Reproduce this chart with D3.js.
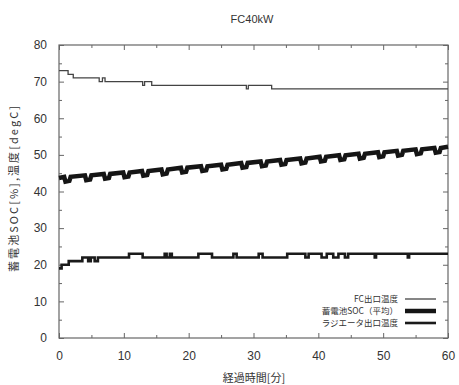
<!DOCTYPE html>
<html>
<head>
<meta charset="utf-8">
<script src="https://cdn.jsdelivr.net/npm/d3@7"></script>
<style>
  html, body { margin: 0; padding: 0; background: #fff; }
  svg { display: block; }
  text { font-family: "Liberation Sans", "Noto Sans CJK JP", sans-serif; fill: #333; }
  .jp { font-family: "Noto Sans CJK JP", sans-serif; }
</style>
</head>
<body>
<svg id="chart" width="459" height="385"></svg>
<script>
// Elapsed time [min] and FC outlet temperature [degC] (step data)
const fcTime = [0, 1.4, 2.2, 6.2, 6.7, 7.1, 12.9, 13.2, 14.3, 28.9, 29.2, 32.8, 60];
const fcTemp = [73, 72, 71, 70, 71, 70, 69, 70, 69, 68, 69, 68, 68];

// Battery SOC (average) [%]
const socTime = [0, 0.8, 1.0, 1.6, 1.8, 4.0, 4.2, 4.8, 5.0, 6.9, 7.1, 7.7, 7.9,
  9.9, 10.1, 10.7, 10.9, 12.8, 13.0, 13.6, 13.8, 15.8, 16.0, 16.6, 16.8,
  18.8, 19.0, 19.6, 19.8, 21.9, 22.1, 22.7, 22.9, 25.0, 25.2, 25.8, 26.0,
  28.1, 28.3, 28.9, 29.1, 31.1, 31.3, 31.9, 32.1, 34.1, 34.3, 34.9, 35.1,
  37.2, 37.4, 38.0, 38.2, 40.2, 40.4, 41.0, 41.2, 43.2, 43.4, 44.0, 44.2,
  46.2, 46.4, 47.0, 47.2, 49.2, 49.4, 50.0, 50.2, 52.1, 52.3, 52.9, 53.1,
  55.0, 55.2, 55.8, 56.0, 57.9, 58.1, 58.7, 58.9, 60];
const socValue = [43.7, 44.0, 42.7, 42.9, 44.0, 44.4, 43.1, 43.3, 44.4, 44.8, 43.5, 43.7, 44.8,
  45.2, 43.9, 44.1, 45.2, 45.6, 44.3, 44.5, 45.6, 46.0, 44.7, 44.9, 46.0,
  46.5, 45.2, 45.4, 46.5, 46.9, 45.6, 45.8, 46.9, 47.3, 46.0, 46.2, 47.3,
  47.8, 46.5, 46.7, 47.8, 48.2, 46.9, 47.1, 48.2, 48.6, 47.3, 47.5, 48.6,
  49.0, 47.7, 47.9, 49.0, 49.5, 48.2, 48.4, 49.5, 49.9, 48.6, 48.8, 49.9,
  50.3, 49.0, 49.2, 50.3, 50.7, 49.4, 49.6, 50.7, 51.1, 49.8, 50.0, 51.1,
  51.5, 50.2, 50.4, 51.5, 51.9, 50.6, 50.8, 51.9, 52.2];

// Radiator outlet temperature [degC] (step data)
const radTime = [0, 0.4, 1.5, 3.6, 4.5, 4.9, 5.5, 6.0, 10.8, 12.9, 16.3, 16.6, 17.1, 17.4,
  21.5, 23.6, 26.9, 27.4, 30.8, 31.4, 35.2, 38.0, 38.5, 40.5, 41.3, 42.3, 43.1, 44.1, 44.6,
  48.7, 48.9, 53.8, 54.0, 60];
const radTemp = [19, 20, 21, 22, 21, 22, 21, 22, 23, 22, 23, 22, 23, 22,
  23, 22, 23, 22, 23, 22, 23, 22, 23, 22, 23, 22, 23, 22, 23,
  22, 23, 22, 23, 23];

const xMajorTicks = [0, 10, 20, 30, 40, 50, 60];
const xMinorTicks = [5, 15, 25, 35, 45, 55];
const yMajorTicks = [0, 10, 20, 30, 40, 50, 60, 70, 80];
const yMinorTicks = [5, 15, 25, 35, 45, 55, 65, 75];

const titleText = "FC40kW";
const xLabel = "経過時間[分]";
const yLabel = "蓄電池SOC[%],温度[degC]";
const legendLabels = ["FC出口温度", "蓄電池SOC（平均）", "ラジエータ出口温度"];

const svg = d3.select("#chart");
const plotLeft = 59, plotRight = 448, plotTop = 45, plotBottom = 338;

const x = d3.scaleLinear().domain([0, 60]).range([plotLeft, plotRight]);
const y = d3.scaleLinear().domain([0, 80]).range([plotBottom, plotTop]);

const axisColor = "#666";

function styleAxis(g) {
  g.select(".domain").remove();
  g.selectAll(".tick line").attr("stroke", axisColor).attr("stroke-width", 1);
  g.selectAll(".tick text").style("font-size", "12px").attr("fill", "#333");
}

// bottom axis with labels
svg.append("g").attr("transform", `translate(0,${plotBottom})`)
  .call(d3.axisBottom(x).tickValues(xMajorTicks).tickSize(-5).tickPadding(13).tickFormat(d3.format("d")))
  .call(styleAxis);
svg.append("g").attr("transform", `translate(0,${plotBottom})`)
  .call(d3.axisBottom(x).tickValues(xMinorTicks).tickSize(-3).tickFormat(""))
  .call(styleAxis);
// top axis
svg.append("g").attr("transform", `translate(0,${plotTop})`)
  .call(d3.axisTop(x).tickValues(xMajorTicks).tickSize(-5).tickFormat(""))
  .call(styleAxis);
svg.append("g").attr("transform", `translate(0,${plotTop})`)
  .call(d3.axisTop(x).tickValues(xMinorTicks).tickSize(-3).tickFormat(""))
  .call(styleAxis);
// left axis with labels
svg.append("g").attr("transform", `translate(${plotLeft},0)`)
  .call(d3.axisLeft(y).tickValues(yMajorTicks).tickSize(-5).tickPadding(12).tickFormat(d3.format("d")))
  .call(styleAxis);
svg.append("g").attr("transform", `translate(${plotLeft},0)`)
  .call(d3.axisLeft(y).tickValues(yMinorTicks).tickSize(-3).tickFormat(""))
  .call(styleAxis);
// right axis
svg.append("g").attr("transform", `translate(${plotRight},0)`)
  .call(d3.axisRight(y).tickValues(yMajorTicks).tickSize(-5).tickFormat(""))
  .call(styleAxis);
svg.append("g").attr("transform", `translate(${plotRight},0)`)
  .call(d3.axisRight(y).tickValues(yMinorTicks).tickSize(-3).tickFormat(""))
  .call(styleAxis);

// frame
svg.append("rect")
  .attr("x", plotLeft).attr("y", plotTop)
  .attr("width", plotRight - plotLeft).attr("height", plotBottom - plotTop)
  .attr("fill", "none").attr("stroke", axisColor).attr("stroke-width", 1.2);

const fcData = fcTime.map((t, i) => [t, fcTemp[i]]);
const socData = socTime.map((t, i) => [t, socValue[i]]);
const radData = radTime.map((t, i) => [t, radTemp[i]]);

const stepLine = d3.line().x(d => x(d[0])).y(d => y(d[1])).curve(d3.curveStepAfter);
const smoothLine = d3.line().x(d => x(d[0])).y(d => y(d[1]));

const styles = [
  { width: 1.3, color: "#444" },
  { width: 4.5, color: "#151515" },
  { width: 2.6, color: "#1a1a1a" }
];

svg.append("path").datum(fcData).attr("d", stepLine)
  .attr("fill", "none").attr("stroke", styles[0].color).attr("stroke-width", styles[0].width);
svg.append("path").datum(radData).attr("d", stepLine)
  .attr("fill", "none").attr("stroke", styles[2].color).attr("stroke-width", styles[2].width);
svg.append("path").datum(socData).attr("d", smoothLine)
  .attr("fill", "none").attr("stroke", styles[1].color).attr("stroke-width", styles[1].width)
  .attr("stroke-linejoin", "miter");

// title and axis labels
svg.append("text").attr("x", 252).attr("y", 23).attr("text-anchor", "middle")
  .style("font-size", "11px").text(titleText);
svg.append("text").attr("class", "jp").attr("x", 254).attr("y", 382).attr("text-anchor", "middle")
  .style("font-size", "11px").text(xLabel);
svg.append("text").attr("class", "jp")
  .attr("transform", `translate(18,${189}) rotate(-90)`)
  .attr("text-anchor", "middle")
  .attr("textLength", 166).attr("lengthAdjust", "spacing")
  .style("font-size", "11px").text(yLabel);

// legend
const legendY = [299, 311, 323];
legendLabels.forEach((label, i) => {
  svg.append("text").attr("class", "jp")
    .attr("x", 398).attr("y", legendY[i]).attr("dy", "0.35em")
    .attr("text-anchor", "end").style("font-size", "8.5px").text(label);
  svg.append("line")
    .attr("x1", 405).attr("x2", 436).attr("y1", legendY[i]).attr("y2", legendY[i])
    .attr("stroke", styles[i].color).attr("stroke-width", styles[i].width);
});
</script>
</body>
</html>
